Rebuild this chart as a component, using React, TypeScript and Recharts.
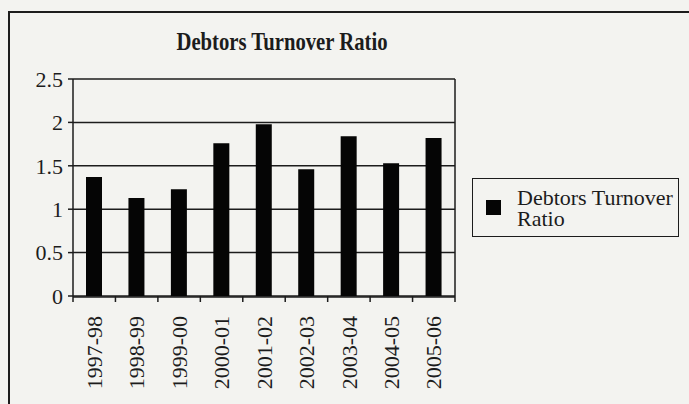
import React from 'react';
import { Bar, BarChart, CartesianGrid, Legend, XAxis, YAxis } from 'recharts';

const years = ['1997-98', '1998-99', '1999-00', '2000-01', '2001-02', '2002-03', '2003-04', '2004-05', '2005-06'];
const ratios = [1.37, 1.13, 1.23, 1.76, 1.98, 1.46, 1.84, 1.53, 1.82];
const yTicks = [0, 0.5, 1, 1.5, 2, 2.5];
const edgeTicks = [0, 1, 2, 3, 4, 5, 6, 7, 8, 9];
const seriesName = 'Debtors Turnover Ratio';

const chartData = years.map((year, i) => ({ year, idx: i, value: ratios[i] }));

const FONT = '"Liberation Serif", "Times New Roman", serif';
const INK = '#1c1c1c';
const BG = '#f3f3f0';

// rotated year labels hanging below the axis
function YearTick({ x, y, payload }: any) {
  return (
    <g transform={`translate(${x},${y})`}>
      <text
        transform="rotate(-90)"
        x={-11}
        y={0}
        dy="0.35em"
        textAnchor="end"
        fill={INK}
        fontFamily={FONT}
        fontSize={22}
      >
        {payload.value}
      </text>
    </g>
  );
}

// ticks between categories only need the tick line, no label
const NoLabel = () => <g />;

function LegendBox() {
  return (
    <div
      style={{
        width: 205,
        height: 57,
        border: `1.5px solid ${INK}`,
        boxSizing: 'content-box',
        display: 'flex',
        alignItems: 'center',
        fontFamily: FONT,
        fontSize: 22,
        color: INK,
        background: BG,
      }}
    >
      <span style={{ width: 15, height: 15, background: '#050505', marginLeft: 13, marginRight: 16, flex: 'none' }} />
      <span style={{ width: 165, lineHeight: '21px' }}>{seriesName}</span>
    </div>
  );
}

export default function App() {
  return (
    <div style={{ position: 'absolute', left: 0, top: 0, width: 689, height: 404, background: BG, overflow: 'hidden' }}>
      <div
        style={{
          position: 'absolute',
          left: 8,
          top: 11,
          width: 720,
          height: 440,
          border: `2px solid ${INK}`,
        }}
      />
      <div
        style={{
          position: 'absolute',
          left: 132,
          top: 29,
          width: 300,
          textAlign: 'center',
          fontFamily: FONT,
          fontWeight: 'bold',
          fontSize: 22,
          color: INK,
          transform: 'scale(0.94, 1.15)',
        }}
      >
        Debtors Turnover Ratio
      </div>
      <div style={{ position: 'absolute', left: 0, top: 0 }}>
        <BarChart
          width={689}
          height={404}
          data={chartData}
          margin={{ top: 79, right: 233, bottom: 8, left: 13 }}
        >
          <CartesianGrid vertical={false} stroke={INK} strokeWidth={1.5} />
          <XAxis
            xAxisId="a-edges"
            dataKey="idx"
            type="number"
            domain={[0, 9]}
            ticks={edgeTicks}
            allowDataOverflow
            tick={<NoLabel />}
            tickSize={6}
            axisLine={false}
            tickLine={{ stroke: INK, strokeWidth: 1.5 }}
            height={1}
            interval={0}
          />
          <XAxis
            xAxisId="b-years"
            dataKey="year"
            height={99}
            tickLine={false}
            axisLine={{ stroke: INK, strokeWidth: 1.5 }}
            tick={<YearTick />}
            interval={0}
          />
          <YAxis
            domain={[0, 2.5]}
            ticks={yTicks}
            width={60}
            tickSize={5}
            tickMargin={5}
            axisLine={{ stroke: INK, strokeWidth: 1.5 }}
            tickLine={{ stroke: INK, strokeWidth: 1.5 }}
            tick={{ fill: INK, fontFamily: FONT, fontSize: 22 }}
          />
          <YAxis
            yAxisId="right"
            orientation="right"
            domain={[0, 2.5]}
            ticks={yTicks}
            width={1}
            tick={false}
            tickLine={false}
            axisLine={{ stroke: INK, strokeWidth: 1.5 }}
          />
          <Legend
            layout="vertical"
            verticalAlign="middle"
            align="center"
            content={<LegendBox />}
            wrapperStyle={{ position: 'absolute', left: 472, top: 178, width: 'auto' }}
          />
          <Bar
            xAxisId="b-years"
            dataKey="value"
            name={seriesName}
            fill="#050505"
            barSize={16}
            isAnimationActive={false}
          />
        </BarChart>
      </div>
    </div>
  );
}
